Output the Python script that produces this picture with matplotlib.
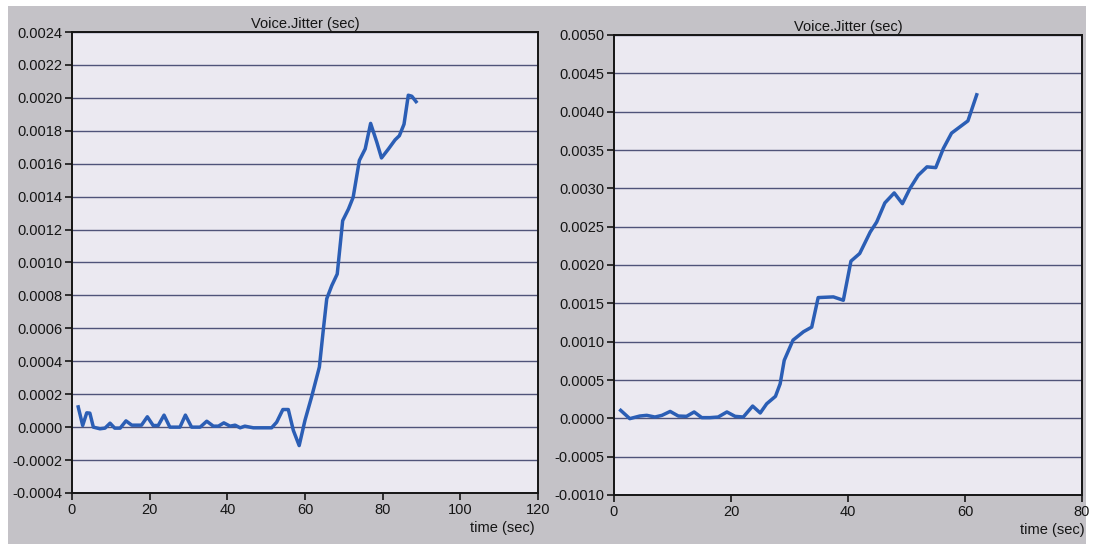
import matplotlib
matplotlib.use("Agg")
import matplotlib.pyplot as plt
from matplotlib.patches import Rectangle

plt.rcParams['font.family'] = ['Liberation Sans', 'DejaVu Sans']

# left panel: jitter over time
t_left = [1.6, 2.75, 3.8, 4.6, 5.5, 7.2, 8.5, 9.8, 11.0, 12.4, 13.9, 15.4, 17.9,
          19.4, 20.9, 22.2, 23.7, 25.2, 27.8, 29.2, 30.8, 33.0, 34.7, 36.4, 37.7,
          39.1, 40.7, 42.0, 43.3, 44.5, 46.7, 48.4, 51.4, 52.7, 54.3, 55.7, 57.0,
          58.5, 60.0, 61.7, 63.7, 64.7, 65.6, 66.9, 68.3, 69.7, 71.2, 72.4, 74.0,
          75.5, 76.9, 78.5, 79.7, 81.5, 83.2, 84.3, 85.5, 86.6, 87.5, 88.6]
j_left = [0.000123, 0.00001, 0.000087, 0.000085, 0.0, -0.00001, -0.000006, 0.000024,
          -0.000006, -0.000006, 0.000038, 0.000012, 0.000012, 0.000063, 0.00001,
          0.00001, 0.000073, 0.0, 0.0, 0.000073, 0.0, 0.0, 0.000036, 0.000006,
          0.000006, 0.000026, 0.000006, 0.000012, -0.000004, 0.000006, -0.000004,
          -0.000004, -0.000004, 0.00003, 0.000107, 0.000107, -0.00002, -0.000112,
          0.000042, 0.000184, 0.000365, 0.000588, 0.00078, 0.00086, 0.00093,
          0.001254, 0.001325, 0.001396, 0.00162, 0.00169, 0.001845, 0.00173,
          0.001635, 0.00169, 0.001745, 0.00177, 0.00184, 0.002016, 0.00201, 0.001977]

# right panel
t_right = [1.14, 2.7, 4.4, 5.6, 7.0, 8.2, 9.6, 11.0, 12.4, 13.7, 15.0, 16.4, 17.8,
           19.3, 20.7, 22.1, 23.7, 25.0, 26.1, 27.6, 28.4, 29.1, 30.6, 32.4, 33.8,
           34.9, 37.5, 39.2, 40.5, 42.0, 43.8, 44.9, 46.3, 47.9, 49.3, 50.6, 52.0,
           53.5, 55.0, 56.3, 57.7, 59.1, 60.5, 62.0]
j_right = [0.000104, -0.000004, 0.00003, 0.000039, 0.000017, 0.000039, 0.00009,
           0.00003, 0.000026, 0.000083, 0.000009, 0.000009, 0.000017, 0.000083,
           0.000026, 0.000017, 0.00016, 0.00007, 0.00019, 0.000287, 0.00045,
           0.000757, 0.00102, 0.00113, 0.00119, 0.001575, 0.001584, 0.00154,
           0.00205, 0.00215, 0.00243, 0.00256, 0.00281, 0.00294, 0.0028, 0.003,
           0.00317, 0.00328, 0.00327, 0.00352, 0.00372, 0.0038, 0.00388, 0.00422]

left_yticks = [-0.0004 + 0.0002 * i for i in range(15)]
right_yticks = [-0.0010 + 0.0005 * i for i in range(13)]

W, H = 1093, 544
fig = plt.figure(figsize=(W / 100, H / 100), dpi=100, facecolor='white')
fig.patches.append(Rectangle((8 / W, 0), (1086 - 8) / W, (H - 6) / H,
                             transform=fig.transFigure, facecolor='#c4c2c7',
                             edgecolor='none', zorder=-10))


def panel(rect, t, j, xmax, xstep, yticks, ylim, fmt):
    ax = fig.add_axes(rect)
    ax.set_zorder(2)
    ax.set_facecolor('#ebe9f1')
    ax.plot(t, j, color='#2b5eb5', lw=2.5, solid_joinstyle='round', zorder=3)
    ax.set_xlim(0, xmax)
    ax.set_ylim(*ylim)
    ax.set_xticks(range(0, xmax + 1, xstep))
    ax.set_yticks(yticks)
    ax.set_yticklabels([fmt % v if abs(v) > 1e-12 else fmt % 0 for v in yticks])
    ax.yaxis.grid(True, color='#4f5379', lw=1.0)
    ax.set_axisbelow(True)
    for s in ax.spines.values():
        s.set_color('#151515')
        s.set_linewidth(1.4)
    ax.tick_params(axis='both', direction='out', length=5, width=1.2,
                   labelsize=10.5, colors='#151515', pad=2)
    ax.set_title('Voice.Jitter (sec)', fontsize=10.5, color='#151515', pad=3)
    return ax


axl = panel([72 / W, 51 / H, 466 / W, 461 / H], t_left, j_left, 120, 20,
            left_yticks, (-0.0004, 0.0024), '%.4f')
axr = panel([614 / W, 49 / H, 468 / W, 460 / H], t_right, j_right, 80, 20,
            right_yticks, (-0.0010, 0.0050), '%.4f')

fig.text(535 / W, 16 / H, 'time (sec)', ha='right', va='center', fontsize=10.5,
         color='#151515', zorder=3)
fig.text(1085 / W, 14 / H, 'time (sec)', ha='right', va='center', fontsize=10.5,
         color='#151515', zorder=3)

fig.savefig('out.png', dpi=100, facecolor=fig.get_facecolor())
